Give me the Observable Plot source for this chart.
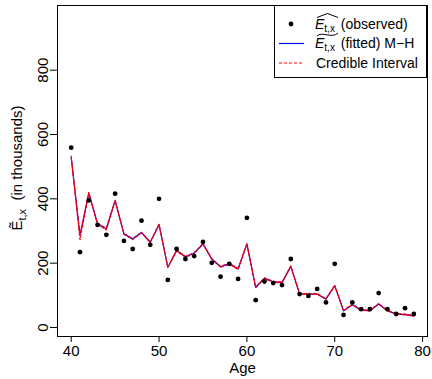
<!DOCTYPE html>
<html>
<head>
<meta charset="utf-8">
<script src="https://cdn.jsdelivr.net/npm/d3@7"></script>
<script src="https://cdn.jsdelivr.net/npm/@observablehq/plot@0.6"></script>
<style>
  html, body { margin: 0; padding: 0; background: white; }
  svg { display: block; }
</style>
</head>
<body>
<div id="chart"></div>
<script>
const ages = [40,41,42,43,44,45,46,47,48,49,50,51,52,53,54,55,56,57,58,59,
              60,61,62,63,64,65,66,67,68,69,70,71,72,73,74,75,76,77,78,79];
const observed = [559,234,395,319,288,416,269,244,332,257,400,148,244,213,222,266,201,158,198,151,
                  341,85,143,138,132,213,104,98,120,78,198,39,78,57,57,107,57,42,60,42];
const fitted = [530,286,418,322,307,395,291,275,295,265,320,187,239,220,231,260,213,189,198,182,
                260,125,153,142,140,190,104,104,104,88,130,52,71,54,52,73,52,42,40,36];
const lower = [527,272,415,320,302,392,289,273,293,263,318,185,237,218,229,258,211,187,196,180,
               258,123,151,140,138,188,103,103,103,87,128,51,70,53,51,72,51,41,39,35];
const upper = [533,289,421,324,309,397,293,277,297,267,322,189,241,222,233,262,215,191,200,184,
               262,127,155,144,142,192,106,106,106,90,132,54,73,56,54,75,54,44,42,38];
const xTicks = [40,50,60,70,80];
const yTicks = [0,200,400,600,800];

const mk = arr => ages.map((a, i) => ({age: a, value: arr[i]}));

const chart = Plot.plot({
  width: 432,
  height: 379,
  marginLeft: 57,
  marginRight: 5,
  marginTop: 5,
  marginBottom: 43,
  style: {fontFamily: "'Liberation Sans', Arial, sans-serif", fontSize: "15px", background: "white", color: "black"},
  x: {domain: [38.44, 80.56]},
  y: {domain: [-28, 1001]},
  marks: [
    Plot.axisX({ticks: xTicks, tickSize: 6, tickPadding: 3, label: "Age", labelAnchor: "center", labelArrow: "none", labelOffset: 36, fontSize: 15}),
    Plot.axisY({ticks: yTicks, tickSize: 7, tickPadding: 3, tickRotate: -90, textAnchor: "middle", lineAnchor: "bottom", label: null, fontSize: 15}),
    Plot.line(mk(fitted), {x: "age", y: "value", stroke: "#0000FF", strokeWidth: 1.2}),
    Plot.line(mk(lower), {x: "age", y: "value", stroke: "#FF0000", strokeWidth: 1, strokeDasharray: "3,2"}),
    Plot.line(mk(upper), {x: "age", y: "value", stroke: "#FF0000", strokeWidth: 1, strokeDasharray: "3,2"}),
    Plot.dot(mk(observed), {x: "age", y: "value", r: 2.4, fill: "black", stroke: "none"}),
    Plot.frame({stroke: "black", strokeWidth: 1})
  ]
});
document.getElementById("chart").appendChild(chart);

const svg = d3.select(chart);
const FONT = "'Liberation Sans', Arial, sans-serif";

// y-axis title with subscript
const yt = svg.append("text")
  .attr("transform", "translate(22,168) rotate(-90)")
  .attr("text-anchor", "middle")
  .attr("font-family", FONT)
  .attr("font-size", 15)
  .attr("fill", "black");
yt.append("tspan").text("Ẽ");
yt.append("tspan").attr("font-size", 11).attr("dy", 4).text("t,x");
yt.append("tspan").attr("dy", -4).text("  (in thousands)");

// legend
const lg = svg.append("g").attr("font-family", FONT).attr("font-size", 14).attr("text-anchor", "start");
lg.append("rect").attr("x", 274.5).attr("y", 5.5).attr("width", 152).attr("height", 72)
  .attr("fill", "white").attr("stroke", "black");
lg.append("circle").attr("cx", 291).attr("cy", 24).attr("r", 2.4).attr("fill", "black");
lg.append("line").attr("x1", 279).attr("x2", 304).attr("y1", 43.5).attr("y2", 43.5)
  .attr("stroke", "#0000FF").attr("stroke-width", 1.2);
lg.append("line").attr("x1", 279).attr("x2", 304).attr("y1", 63).attr("y2", 63)
  .attr("stroke", "#FF0000").attr("stroke-width", 1).attr("stroke-dasharray", "3,2");

function symLabel(y, mark, rest) {
  const t = lg.append("text").attr("x", 315).attr("y", y).attr("fill", "black").attr("text-anchor", "start");
  t.append("tspan").attr("font-style", "italic").text("E");
  t.append("tspan").attr("font-size", 10).attr("dy", 3).text("t,x");
  t.append("tspan").attr("dy", -3).attr("dx", 2).text("\u00a0" + rest);
  const x0 = 317, x1 = 338, yy = y - 13;
  if (mark === "hat") {
    lg.append("path").attr("d", `M${x0},${yy+2} L${(x0+x1)/2},${yy-2} L${x1},${yy+2}`)
      .attr("fill", "none").attr("stroke", "black").attr("stroke-width", 1);
  } else {
    lg.append("path").attr("d", `M${x0},${yy+1} C${x0+5},${yy-4} ${x1-6},${yy+4} ${x1},${yy-2}`)
      .attr("fill", "none").attr("stroke", "black").attr("stroke-width", 1);
  }
}
symLabel(28.5, "hat", "(observed)");
symLabel(48, "tilde", "(fitted) M\u2212H");
lg.append("text").attr("x", 316).attr("y", 68).attr("fill", "black").attr("text-anchor", "start").text("Credible Interval");
</script>
</body>
</html>
